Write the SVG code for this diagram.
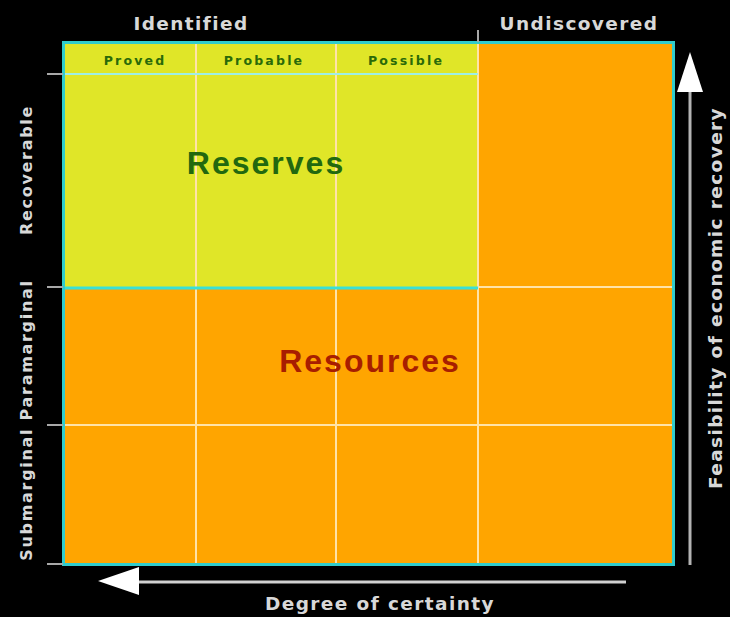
<svg xmlns="http://www.w3.org/2000/svg" width="730" height="617" viewBox="0 0 730 617">
<style>
.lbl{font-family:"DejaVu Sans",sans-serif;font-weight:bold;font-size:18.5px;fill:#d8d8d8;letter-spacing:1.4px}
.side{font-family:"DejaVu Sans",sans-serif;font-weight:bold;font-size:16px;fill:#d8d8d8;letter-spacing:1.7px}
.hdr{font-family:"DejaVu Sans",sans-serif;font-weight:bold;font-size:12.5px;fill:#2a6a08;letter-spacing:2.2px}
.big{font-family:"Liberation Sans",Arial,sans-serif;font-weight:bold;font-size:32px;letter-spacing:2px}
.pale{stroke:#ffe3a8;stroke-width:2;fill:none}
.tick{stroke:#a8a8a8;stroke-width:2}
</style>
<rect width="730" height="617" fill="#000"/>
<g id="grid">
<rect id="resources-area" x="63" y="42" width="611" height="523" fill="#ffa500"/>
<rect id="reserves-area" x="65" y="44" width="413" height="243" fill="#e0e628"/>
<line class="pale" x1="196" y1="44" x2="196" y2="564"/>
<line class="pale" x1="336" y1="44" x2="336" y2="564"/>
<line class="pale" x1="478" y1="44" x2="478" y2="564"/>
<line class="pale" x1="63" y1="425" x2="673" y2="425"/>
<line class="pale" x1="478" y1="287" x2="673" y2="287"/>
<line x1="63" y1="74" x2="478" y2="74" stroke="#9fefe6" stroke-width="2"/>
<line x1="63" y1="288" x2="478" y2="288" stroke="#38e0d8" stroke-width="3"/>
<rect x="63.5" y="42.5" width="610" height="522" fill="none" stroke="#30cccc" stroke-width="3"/>
<line x1="478" y1="30" x2="478" y2="42" stroke="#a8a8a8" stroke-width="2"/>
</g>
<g id="ticks">
<line class="tick" x1="47" y1="74" x2="63" y2="74"/>
<line class="tick" x1="47" y1="287" x2="63" y2="287"/>
<line class="tick" x1="47" y1="425" x2="63" y2="425"/>
<line class="tick" x1="47" y1="564" x2="63" y2="564"/>
</g>
<g id="connectors">
<line x1="690" y1="88" x2="690" y2="565" stroke="#b4b4b4" stroke-width="3"/>
<polygon points="690,52 703,92 677,92" fill="#fff"/>
<line x1="136" y1="582" x2="626" y2="582" stroke="#d0d0d0" stroke-width="3"/>
<polygon points="98,581 139,567 139,595" fill="#fff"/>
</g>
<g id="labels">
<text class="lbl" x="191" y="30" text-anchor="middle">Identified</text>
<text class="lbl" x="579" y="30" text-anchor="middle">Undiscovered</text>
<text class="lbl" x="380" y="610" text-anchor="middle">Degree of certainty</text>
<text class="lbl" transform="translate(722,298) rotate(-90)" text-anchor="middle">Feasibility of economic recovery</text>
<text class="side" transform="translate(32,170) rotate(-90)" text-anchor="middle">Recoverable</text>
<text class="side" transform="translate(32,420) rotate(-90)" text-anchor="middle">Submarginal Paramarginal</text>
</g>
<g id="headers">
<text class="hdr" x="135" y="65" text-anchor="middle">Proved</text>
<text class="hdr" x="264" y="65" text-anchor="middle">Probable</text>
<text class="hdr" x="406" y="65" text-anchor="middle">Possible</text>
</g>
<g id="reserves"><text class="big" x="266" y="174" text-anchor="middle" fill="#22680f">Reserves</text></g>
<g id="resources"><text class="big" x="370" y="372" text-anchor="middle" fill="#a81e00">Resources</text></g>
</svg>
